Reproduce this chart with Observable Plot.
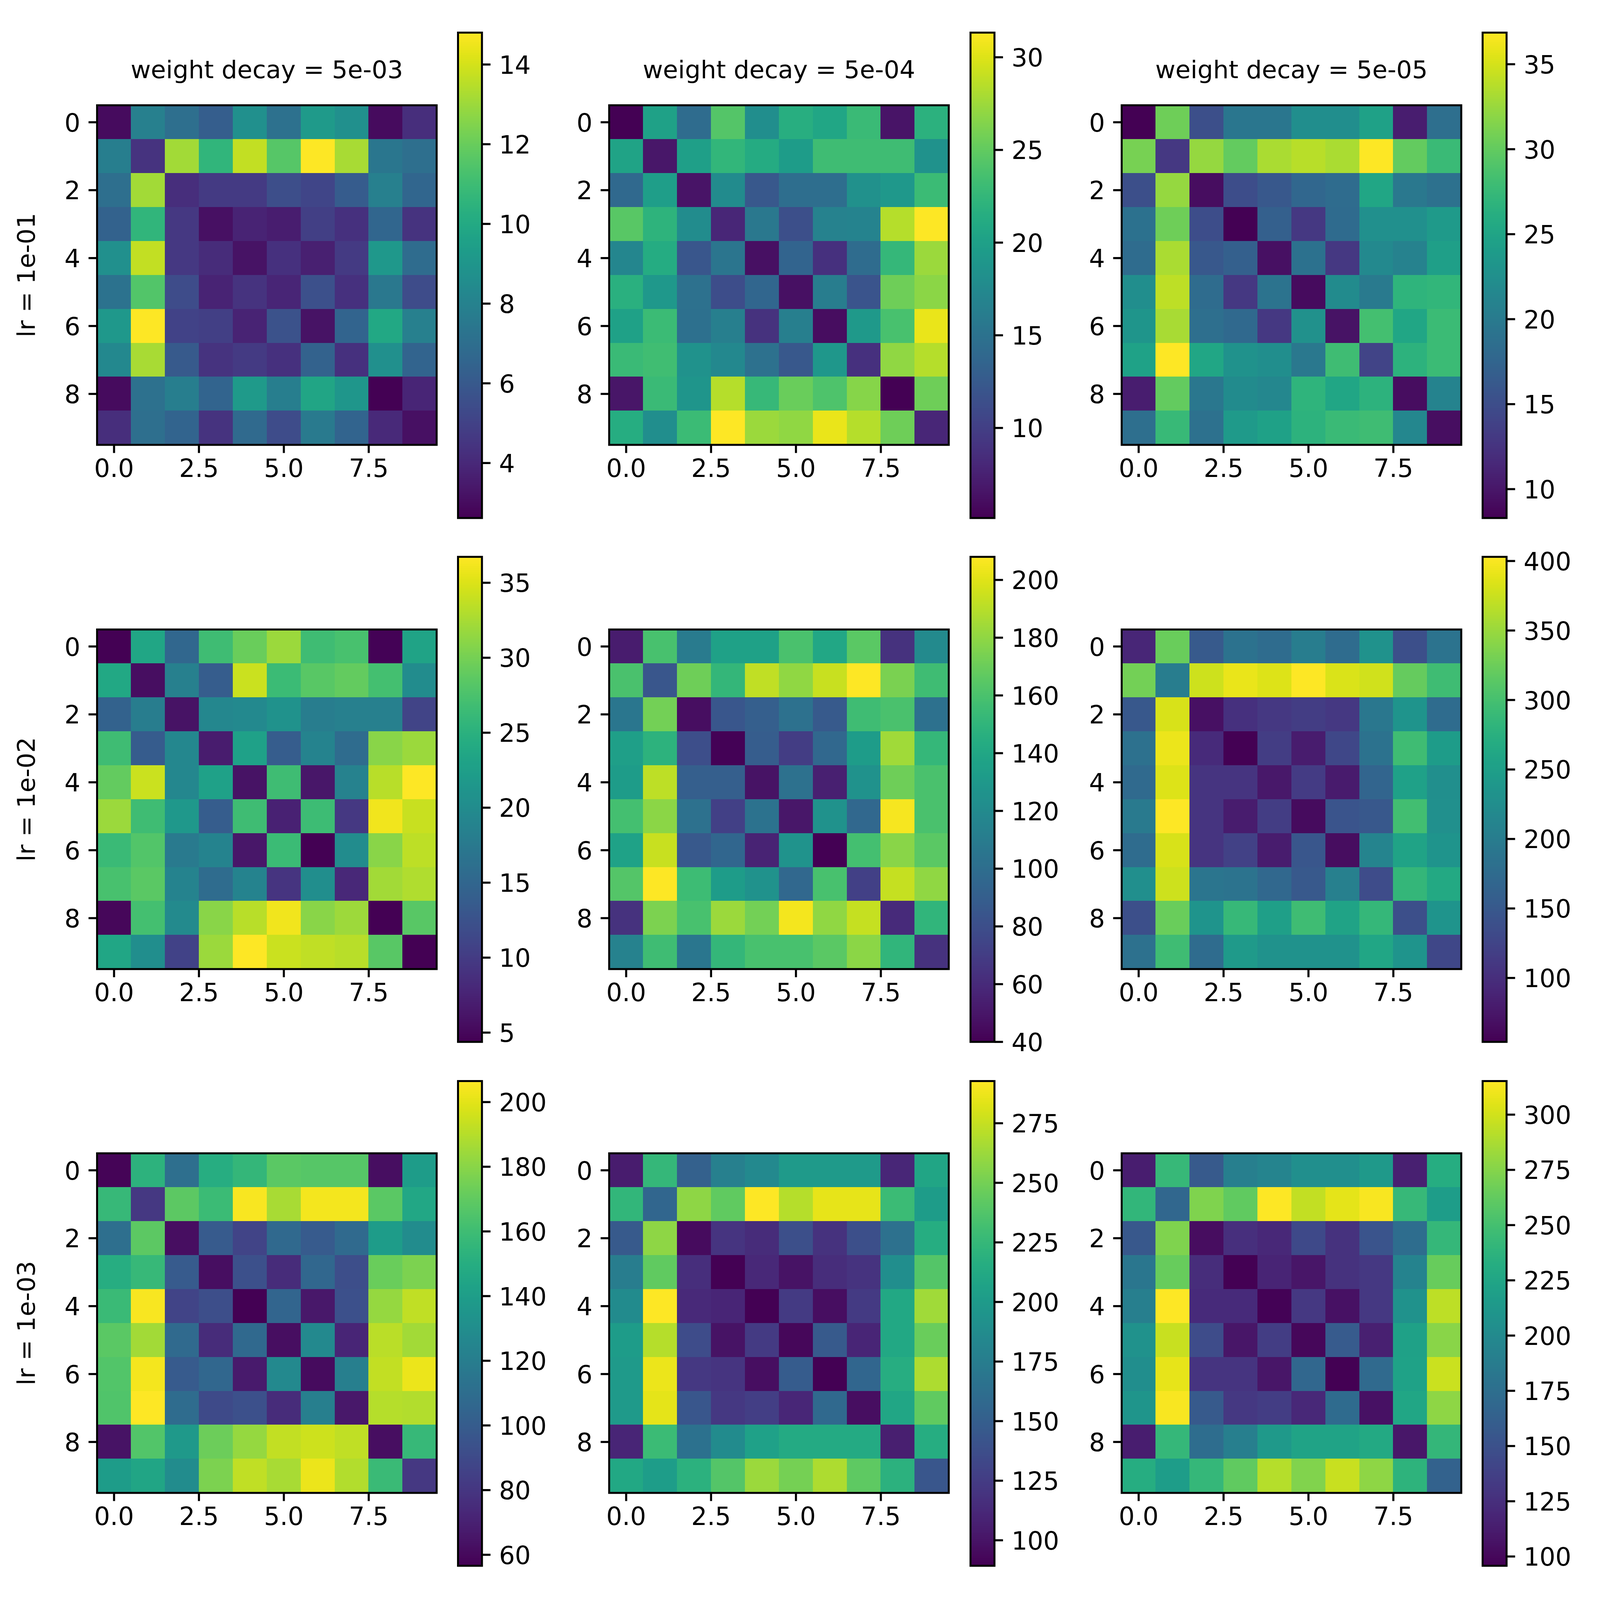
<!DOCTYPE html>
<html>
<head>
<meta charset="utf-8">
<script src="https://cdn.jsdelivr.net/npm/d3@7"></script>
<script src="https://cdn.jsdelivr.net/npm/@observablehq/plot@0.6"></script>
<style>
  html, body { margin: 0; background: white; }
  #chart { position: relative; width: 4096px; height: 4096px; overflow: hidden; background: white; }
</style>
</head>
<body>
<div id="chart"></div>
<script>
const weightDecays = ["5e-03", "5e-04", "5e-05"]
const learningRates = ["1e-01", "1e-02", "1e-03"]

// one matrix per panel
const lr1_wd3 = [
  [3.0, 7.9, 7.0, 6.2, 8.7, 7.1, 9.2, 8.7, 3.0, 4.2],
  [7.8, 4.4, 13.1, 10.6, 13.7, 11.6, 14.8, 13.2, 7.4, 7.0],
  [7.0, 13.1, 4.2, 4.7, 4.7, 5.5, 5.1, 6.1, 7.9, 6.6],
  [6.4, 10.6, 4.6, 3.1, 3.8, 3.6, 4.9, 4.3, 6.6, 4.4],
  [8.7, 13.7, 4.6, 4.1, 3.2, 4.3, 3.7, 4.7, 9.1, 6.9],
  [7.2, 11.5, 5.4, 3.8, 4.4, 3.9, 5.6, 4.3, 7.5, 5.4],
  [9.1, 14.8, 5.0, 4.9, 3.8, 5.7, 3.2, 6.5, 9.9, 7.9],
  [8.3, 13.2, 6.0, 4.4, 4.7, 4.3, 6.4, 4.3, 8.7, 6.5],
  [3.0, 7.1, 7.8, 6.5, 9.2, 7.8, 9.8, 9.0, 2.62, 3.9],
  [4.2, 7.0, 6.5, 4.4, 6.8, 5.4, 7.6, 6.5, 4.0, 3.1]
]
const lr1_wd4 = [
  [5.14, 20.1, 14.3, 24.3, 18.0, 21.6, 20.6, 22.9, 6.5, 21.9],
  [20.3, 6.7, 19.8, 22.4, 21.1, 19.5, 23.2, 23.2, 23.2, 18.5],
  [14.0, 19.7, 6.5, 17.7, 12.2, 14.5, 14.5, 18.3, 19.1, 23.0],
  [24.5, 22.1, 17.8, 8.0, 15.6, 11.4, 16.7, 16.9, 28.4, 31.33],
  [17.2, 21.3, 12.1, 15.3, 6.2, 13.5, 8.8, 14.3, 22.6, 27.4],
  [21.8, 19.1, 14.8, 11.2, 13.7, 6.2, 16.1, 11.9, 25.6, 26.8],
  [20.1, 23.0, 14.7, 16.3, 8.9, 16.3, 6.0, 19.2, 23.7, 30.5],
  [22.9, 23.3, 18.4, 17.4, 14.8, 12.2, 19.0, 8.8, 27.0, 28.4],
  [6.6, 22.9, 18.8, 28.4, 22.7, 25.3, 24.0, 26.6, 5.2, 25.6],
  [21.4, 18.0, 23.0, 31.3, 27.4, 27.0, 30.5, 28.4, 25.6, 8.0]
]
const lr1_wd5 = [
  [8.3, 30.6, 15.2, 19.5, 19.5, 22.3, 22.3, 24.6, 10.6, 18.6],
  [31.0, 12.9, 32.3, 30.0, 33.2, 33.8, 33.2, 36.86, 30.0, 27.7],
  [15.2, 32.3, 9.2, 14.9, 16.1, 17.7, 18.3, 25.2, 19.7, 18.8],
  [18.9, 30.6, 14.9, 8.3, 16.9, 12.9, 18.2, 22.5, 22.5, 23.7],
  [18.3, 33.2, 16.0, 16.9, 9.5, 19.0, 12.9, 21.7, 20.9, 24.3],
  [22.3, 34.0, 18.3, 12.9, 19.2, 9.1, 22.0, 20.0, 26.9, 27.1],
  [23.2, 33.1, 18.6, 18.0, 12.9, 22.6, 9.7, 28.3, 25.2, 27.8],
  [24.8, 36.8, 25.2, 22.9, 22.3, 19.7, 28.0, 14.0, 26.6, 27.8],
  [10.6, 30.0, 19.6, 22.0, 21.5, 26.9, 25.2, 26.7, 9.2, 21.1],
  [18.6, 27.6, 18.8, 23.7, 24.6, 26.7, 27.7, 28.0, 21.5, 9.4]
]
const lr2_wd3 = [
  [4.38, 23.5, 15.1, 26.7, 29.3, 31.9, 26.7, 27.3, 4.6, 23.2],
  [23.8, 5.6, 18.3, 13.8, 34.1, 26.4, 28.3, 29.0, 27.0, 20.0],
  [14.4, 18.0, 6.0, 19.3, 19.6, 20.9, 18.0, 18.3, 18.3, 10.9],
  [26.7, 13.7, 19.3, 6.9, 22.8, 13.8, 18.9, 15.7, 31.0, 31.9],
  [29.0, 34.1, 19.3, 22.8, 6.0, 26.7, 6.3, 18.6, 33.2, 36.73],
  [31.9, 26.7, 21.6, 13.8, 26.7, 7.3, 26.5, 9.6, 36.0, 34.0],
  [26.3, 28.0, 17.6, 18.9, 6.4, 26.4, 4.4, 20.0, 31.0, 33.5],
  [27.3, 28.4, 18.9, 15.7, 18.9, 9.3, 20.2, 8.0, 32.2, 32.9],
  [5.0, 27.0, 19.7, 31.0, 33.2, 36.0, 31.0, 32.0, 4.5, 28.3],
  [23.5, 20.3, 10.8, 31.9, 36.7, 34.1, 33.6, 33.3, 28.3, 4.5]
]
const lr2_wd4 = [
  [53, 159, 109, 136, 136, 160, 140, 165, 64, 120],
  [160, 85, 171, 151, 192, 180, 194, 208, 174, 156],
  [106, 172, 46, 85, 90, 102, 87, 156, 160, 102],
  [134, 148, 80, 41, 89, 70, 96, 132, 184, 152],
  [132, 191, 90, 90, 48, 102, 55, 125, 171, 160],
  [158, 179, 102, 72, 103, 50, 125, 96, 206, 160],
  [137, 194, 86, 95, 56, 126, 40, 158, 178, 165],
  [163, 208, 155, 132, 125, 96, 159, 72, 193, 180],
  [64, 175, 159, 183, 172, 205, 180, 193, 60, 150],
  [114, 156, 106, 151, 159, 159, 165, 179, 150, 64]
]
const lr2_wd5 = [
  [92, 323, 152, 186, 176, 200, 176, 232, 138, 187],
  [329, 201, 376, 392, 385, 403, 383, 378, 321, 295],
  [149, 382, 68, 103, 110, 116, 110, 193, 235, 176],
  [183, 393, 96, 54, 116, 80, 128, 186, 294, 246],
  [173, 385, 106, 106, 76, 115, 79, 166, 252, 226],
  [196, 403, 106, 80, 116, 64, 145, 149, 298, 228],
  [176, 382, 106, 122, 80, 147, 65, 211, 256, 235],
  [226, 376, 190, 187, 170, 150, 205, 134, 285, 264],
  [138, 323, 235, 288, 250, 295, 256, 286, 138, 235],
  [183, 295, 176, 243, 231, 231, 232, 260, 235, 128]
]
const lr3_wd3 = [
  [58, 153, 111, 150, 156, 168, 167, 167, 62, 139],
  [157, 81, 169, 159, 205, 187, 204, 204, 168, 146],
  [111, 169, 62, 99, 87, 107, 99, 108, 139, 129],
  [150, 157, 99, 62, 93, 75, 106, 92, 172, 177],
  [158, 205, 87, 92, 56.6, 105, 66, 93, 183, 192],
  [168, 186, 108, 75, 107, 62, 127, 72, 191, 186],
  [166, 204, 99, 106, 67, 127, 61, 121, 193, 202],
  [165, 206.5, 109, 90, 93, 75, 121, 66, 190, 189],
  [64, 166, 137, 173, 183, 193, 195, 192, 62, 157],
  [139, 145, 129, 177, 192, 187, 202, 189, 158, 81]
]
const lr3_wd4 = [
  [105, 225, 152, 177, 185, 199, 199, 199, 111, 209],
  [223, 156, 258, 243, 292.7, 270, 285, 285, 228, 201],
  [146, 258, 95, 120, 114, 138, 118, 138, 164, 215],
  [175, 243, 116, 89.3, 112, 99, 115, 119, 189, 238],
  [187, 292, 113, 110, 90, 124, 97, 124, 211, 264],
  [201, 270, 136, 99, 124, 93, 146, 110, 211, 246],
  [199, 287, 122, 120, 97, 148, 89.3, 156, 216, 268],
  [199, 284, 144, 122, 126, 111, 158, 97, 210, 243],
  [110, 228, 165, 187, 205, 213, 213, 213, 106, 215],
  [211, 202, 219, 238, 262, 250, 268, 242, 219, 144]
]
const lr3_wd5 = [
  [113, 243, 157, 190, 195, 204, 204, 214, 115, 232],
  [240, 168, 273, 262, 315.2, 295, 306, 313, 243, 217],
  [155, 273, 103, 125, 120, 144, 127, 153, 173, 242],
  [182, 264, 124, 95.8, 118, 108, 127, 131, 194, 264],
  [190, 315, 122, 122, 97, 131, 106, 131, 207, 293],
  [208, 297, 146, 108, 135, 100, 158, 115, 221, 276],
  [203, 307, 129, 129, 108, 168, 96, 171, 222, 298],
  [210, 313, 157, 131, 135, 120, 172, 106, 226, 278],
  [113, 242, 173, 190, 214, 223, 223, 228, 109, 241],
  [232, 217, 242, 262, 291, 274, 297, 278, 238, 164]
]
const matrices = [
  [lr1_wd3, lr1_wd4, lr1_wd5],
  [lr2_wd3, lr2_wd4, lr2_wd5],
  [lr3_wd3, lr3_wd4, lr3_wd5]
]

// colorbar tick labels per panel
const barTicks = [
  [[4, 6, 8, 10, 12, 14], [10, 15, 20, 25, 30], [10, 15, 20, 25, 30, 35]],
  [[5, 10, 15, 20, 25, 30, 35], [40, 60, 80, 100, 120, 140, 160, 180, 200], [100, 150, 200, 250, 300, 350, 400]],
  [[60, 80, 100, 120, 140, 160, 180, 200], [100, 125, 150, 175, 200, 225, 250, 275], [100, 125, 150, 175, 200, 225, 250, 275, 300]]
]

const xTicks = [0, 2.5, 5, 7.5]
const yTicks = [0, 2, 4, 6, 8]

// layout, in picture pixels. the page comes out 1.125x bigger than css px
const S = 1 / 1.125
const fontSize = 72 * S
const titleSize = 71 * S
const frameW = 5.7 * S
const tickW = 6 * S
const tickLen = 24 * S
const imgSize = 978 * S
const imgLeft = [279, 1754, 3230].map(d => d * S)
const imgTop = [303, 1812, 3321].map(d => d * S)
const barLeft = [1318.5, 2794, 4269].map(d => d * S)
const barTop = [93.5, 1603, 3113].map(d => d * S)
const barHeight = [1398, 1397, 1396].map(d => d * S)
const barWidth = 69 * S
const pad = 270 * S

const chart = document.getElementById('chart')

function svgStyle(left, top) {
  return {
    position: "absolute",
    left: left + "px",
    top: top + "px",
    background: "transparent",
    maxWidth: "none",
    overflow: "visible",
    fontFamily: "DejaVu Sans",
    color: "black"
  }
}

// ticks and labels as two marks so the labels can sit a little lower than Plot puts them
function yAxis(anchor, ticks, labelGap) {
  return [
    Plot.axisY({anchor, ticks, label: null, tickSize: tickLen, strokeWidth: tickW, fill: "none"}),
    Plot.axisY({
      anchor, ticks, tickFormat: d => String(d), label: null,
      tickSize: 0, tickPadding: tickLen + labelGap * S, fontSize, dy: 3.5 * S
    })
  ]
}

function heatmap(r, c) {
  const cells = matrices[r][c].flatMap((row, i) => row.map((v, j) => ({row: i, col: j, v})))
  const marks = [
    Plot.rect(cells, {
      x1: d => d.col - 0.5,
      x2: d => d.col + 0.5,
      y1: d => d.row - 0.5,
      y2: d => d.row + 0.5,
      fill: "v",
      shapeRendering: "crispEdges"
    }),
    Plot.frame({stroke: "black", strokeWidth: frameW}),
    Plot.axisX({
      ticks: xTicks, tickFormat: d => d.toFixed(1), label: null,
      tickSize: tickLen, tickPadding: 17 * S, fontSize, strokeWidth: tickW
    }),
    yAxis("left", yTicks, 24)
  ]
  if (r === 0) {
    marks.push(Plot.text(["weight decay = " + weightDecays[c]], {
      frameAnchor: "top", dy: -78 * S, lineAnchor: "bottom", fontSize: titleSize, fill: "black"
    }))
  }
  if (c === 0) {
    marks.push(Plot.text(["lr = " + learningRates[r]], {
      frameAnchor: "left", dx: -202 * S, rotate: -90, textAnchor: "middle", fontSize: titleSize, fill: "black"
    }))
  }
  const plot = Plot.plot({
    width: imgSize + 2 * pad,
    height: imgSize + 2 * pad,
    marginLeft: pad, marginRight: pad, marginTop: pad, marginBottom: pad,
    x: {domain: [-0.5, 9.5]},
    y: {domain: [9.5, -0.5]},
    color: {type: "linear", scheme: "viridis", domain: d3.extent(cells, d => d.v)},
    style: svgStyle(imgLeft[c] - pad, imgTop[r] - pad),
    marks
  })
  chart.append(plot)
}

function colorbar(r, c) {
  const domain = d3.extent(matrices[r][c].flat())
  const step = (domain[1] - domain[0]) / 256
  const levels = d3.range(256).map(i => domain[0] + i * step)
  const plot = Plot.plot({
    width: barWidth + 2 * pad,
    height: barHeight[r] + 2 * pad,
    marginLeft: pad, marginRight: pad, marginTop: pad, marginBottom: pad,
    x: {domain: [0, 1], axis: null},
    y: {domain},
    color: {type: "linear", scheme: "viridis", domain},
    style: svgStyle(barLeft[c] - pad, barTop[r] - pad),
    marks: [
      Plot.rect(levels, {
        x1: () => 0, x2: () => 1,
        y1: d => d, y2: d => d + step,
        fill: d => d + step / 2,
        shapeRendering: "crispEdges"
      }),
      Plot.frame({stroke: "black", strokeWidth: frameW}),
      yAxis("right", barTicks[r][c], 25)
    ]
  })
  chart.append(plot)
}

learningRates.forEach((_, r) => {
  weightDecays.forEach((_, c) => {
    heatmap(r, c)
    colorbar(r, c)
  })
})
</script>
</body>
</html>
